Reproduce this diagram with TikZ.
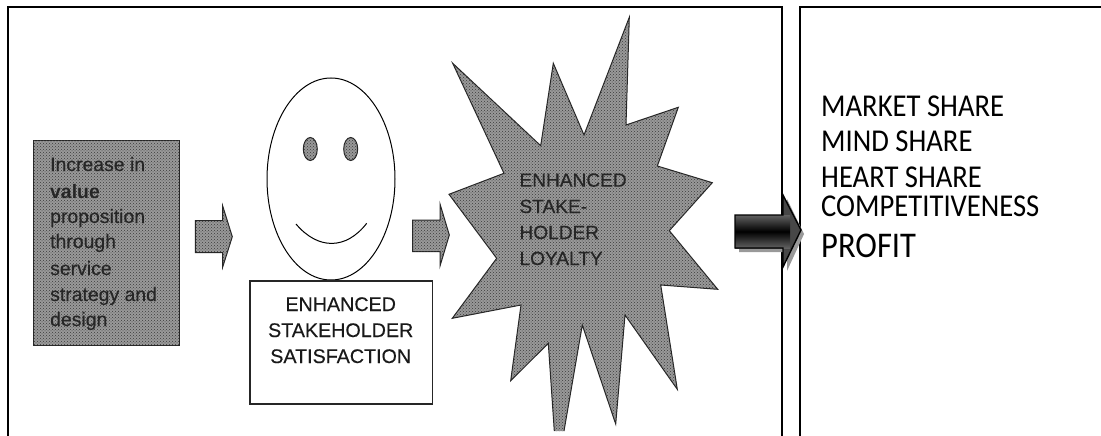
\documentclass[tikz,border=0pt]{standalone}
\usepackage{fontspec}
\usetikzlibrary{shapes.geometric,patterns}
\setmainfont{Liberation Sans}
\newfontfamily\scanfont[FakeBold=0.35]{Liberation Sans}
\newfontfamily\rightfont[FakeStretch=0.9]{Carlito}
\definecolor{scan}{HTML}{999999}
\definecolor{halftone}{HTML}{3A3A3A}
\tikzset{
  x=1pt,y=-1pt,
  frame/.style={draw=black,line width=1.6pt},
  ink/.style={draw=black!85,line width=1pt},
  grain/.style={ink,fill=scan,postaction={pattern=crosshatch dots,pattern color=halftone}},
  scanline/.style={anchor=base west,inner sep=0pt,text=black!85},
  scancap/.style={anchor=base,inner sep=0pt,text=black!90},
  rightline/.style={anchor=base west,inner sep=0pt,text=black},
  listfont/.style={font=\rightfont\fontsize{31.8}{34}\selectfont},
  eye/.style={ink,grain,ellipse,minimum width=14,minimum height=23,inner sep=0pt},
}
\begin{document}
\begin{tikzpicture}
\useasboundingbox (0,0) rectangle (1101,436);
\fill[white] (0,0) rectangle (1101,436);
% frames
\coordinate (fa) at (8,436); \coordinate (fb) at (8,7); \coordinate (fc) at (782,7); \coordinate (fd) at (782,436);
\draw[frame] (fa) -- (fb) -- (fc) -- (fd);
\coordinate (ga) at (800,436); \coordinate (gb) at (800,7); \coordinate (gc) at (1101,7);
\draw[frame] (ga) -- (gb) -- (gc);
% grey box
\node[grain,minimum width=146,minimum height=205,inner sep=0pt] (box) at (106,243) {};
\foreach \t/\b in {Increase in/171,proposition/223,through/248,service/275,strategy and/301,design/326}
  \node[scanline,font=\scanfont\fontsize{19.4}{22}\selectfont] at (50,\b) {\t};
\node[scanline,font=\fontsize{19.4}{22}\selectfont\bfseries] at (50,198) {value};
% arrow 1
\path[grain] (195.3,220.7) -- (222.7,220.7) -- (222.7,206) -- (232.3,236.7) -- (222.7,267) -- (222.7,252.7) -- (195.3,252.7) -- cycle;
% face
\node[draw=black,line width=1pt,ellipse,minimum width=128,minimum height=202,inner sep=0pt] (face) at (331,179) {};
\node[eye] (eyeL) at (310.3,149) {};
\node[eye] (eyeR) at (350.7,149) {};
\draw[black,line width=1pt] (296,224) .. controls (318,250) and (346,250) .. (366.7,223.3);
% satisfaction box
\node[draw=black!85,fill=white,line width=1.2pt,minimum width=182.7,minimum height=123,inner sep=0pt] (sat) at (341.3,342.5) {};
\node[scancap,font=\scanfont\fontsize{19.7}{22}\selectfont] at (340.7,311) {ENHANCED};
\node[scancap,font=\scanfont\fontsize{19.7}{22}\selectfont] at (340.7,337) {STAKEHOLDER};
\node[scancap,font=\scanfont\fontsize{19.7}{22}\selectfont] at (340.7,363) {SATISFACTION};
% arrow 2
\path[grain] (412.7,220) -- (440,220) -- (440,204) -- (449.3,235) -- (440,266) -- (440,251.7) -- (412.7,251.7) -- cycle;
% star, open at the cropped lower spike
\path[grain] (564,431) -- (582.3,325) -- (615.7,424) -- (625,315) -- (677.3,389.3) -- (660.7,285) -- (717.7,289.3) -- (669.3,230.7) -- (712.3,182.7) -- (657.3,166) -- (678.3,107.3) -- (626,125) -- (629.3,17.3) -- (584,135) -- (553.3,63.3) -- (540.7,145.7) -- (452.7,63.3) -- (504,173.3) -- (449,194.3) -- (496.7,258.3) -- (452.3,318.3) -- (521,305) -- (510.7,380.7) -- (548.3,343.3) -- (554.3,431);
\foreach \t/\b in {ENHANCED/186.7,STAKE-/213,HOLDER/239,LOYALTY/265}
  \node[scanline,font=\scanfont\fontsize{19.1}{22}\selectfont] at (519.3,\b) {\t};
% black arrow
\fill[gray!80] (739,219) -- (787,219) -- (787,199) -- (804,234) -- (787,271) -- (787,252) -- (739,252) -- cycle;
\fill[black!72] (783,215) -- (783,195) -- (801,230) -- (783,267) -- (783,248) -- cycle;
\shade[top color=black!62,bottom color=black!62,middle color=black] (735,215) rectangle (790,248);
\path[draw=black,line width=1.4pt] (735,215) -- (783,215) -- (783,195) -- (801,230) -- (783,267) -- (783,248) -- (735,248) -- cycle;
% list
\node[rightline,listfont] at (821,116.7) {MARKET SHARE};
\node[rightline,listfont] at (821,151.7) {MIND SHARE};
\node[rightline,listfont] at (821,187.3) {HEART SHARE};
\node[rightline,listfont] at (821,216) {COMPETITIVENESS};
\node[rightline,font=\rightfont\fontsize{36.2}{38}\selectfont] at (821,257.3) {PROFIT};
\end{tikzpicture}
\end{document}
